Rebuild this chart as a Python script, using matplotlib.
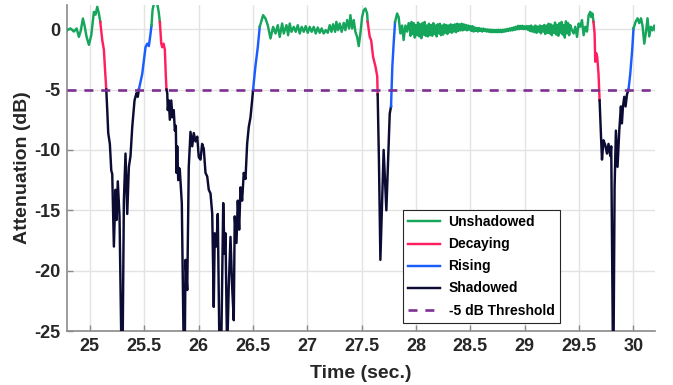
"""
Link attenuation trace with blockage states (unshadowed / decaying /
shadowed / rising) and the -5 dB shadowing threshold.
"""
import numpy as np
import matplotlib
matplotlib.use("Agg")
import matplotlib.pyplot as plt
from matplotlib.lines import Line2D

# (time [s], attenuation [dB]) keypoints
lead_in = [(24.792, -0.08), (24.822, 0.06), (24.853, -0.2), (24.878, 0.06),
           (24.899, -0.64), (24.917, -0.1), (24.936, 0.88), (24.951, 0.3),
           (24.970, -0.64), (24.991, -1.3), (25.013, -0.5), (25.037, 1.43),
           (25.052, 1.2), (25.068, 1.85), (25.083, 1.3)]

event_a = [(25.096, 0.6), (25.114, -0.9), (25.129, -1.7), (25.138, -3.1),
           (25.151, -5.0), (25.160, -6.7), (25.169, -8.6), (25.184, -9.5),
           (25.197, -11.7), (25.206, -12.0), (25.221, -18.0), (25.236, -13.3),
           (25.246, -15.8), (25.257, -12.6), (25.273, -15.5), (25.291, -27.0),
           (25.301, -27.0), (25.313, -14.2), (25.328, -10.3), (25.344, -15.3),
           (25.359, -11.4), (25.374, -10.5), (25.390, -8.1), (25.411, -5.9),
           (25.429, -5.3), (25.441, -5.6), (25.451, -5.0), (25.482, -3.7),
           (25.497, -2.6), (25.512, -1.5), (25.528, -1.2), (25.543, -1.4),
           (25.558, -0.4), (25.567, 0.3), (25.577, 1.6), (25.589, 2.1),
           (25.620, 2.1), (25.634, 1.4)]

event_b = [(25.644, 0.6), (25.657, -1.2), (25.666, -1.5), (25.678, -1.2),
           (25.690, -1.7), (25.699, -3.9), (25.705, -5.0), (25.712, -5.3),
           (25.717, -6.7), (25.726, -5.9), (25.736, -7.5), (25.749, -5.9),
           (25.760, -7.3), (25.772, -6.7), (25.782, -8.4), (25.791, -8.0),
           (25.797, -11.9), (25.804, -9.7), (25.813, -12.5), (25.822, -11.5),
           (25.828, -11.7), (25.846, -14.4), (25.864, -27.0), (25.873, -27.0),
           (25.880, -19.1), (25.896, -21.6), (25.910, -11.4), (25.926, -8.5),
           (25.942, -9.7), (25.956, -8.6), (25.972, -9.3), (25.988, -8.9),
           (26.002, -10.6), (26.018, -10.8), (26.033, -9.5), (26.048, -9.9),
           (26.064, -11.9), (26.080, -12.2), (26.094, -13.3), (26.110, -13.6),
           (26.126, -15.3), (26.140, -23.0), (26.149, -16.9), (26.165, -18.0),
           (26.177, -15.3), (26.193, -27.0), (26.208, -27.0), (26.227, -14.4),
           (26.239, -18.6), (26.248, -16.9), (26.263, -27.0), (26.278, -21.3),
           (26.294, -17.2), (26.309, -21.3), (26.324, -24.1), (26.333, -15.5),
           (26.349, -17.7), (26.361, -14.2), (26.374, -16.6), (26.386, -13.1),
           (26.401, -14.2), (26.416, -11.9), (26.432, -12.4), (26.447, -9.5),
           (26.462, -8.1), (26.478, -7.3), (26.493, -5.9), (26.502, -5.0),
           (26.523, -3.1), (26.545, -1.5)]

calm_a = [(26.563, 0.2), (26.594, 1.16), (26.616, 0.88), (26.637, 0.33),
          (26.662, -0.77), (26.686, 0.19), (26.708, -0.36), (26.729, 0.33),
          (26.747, -0.64), (26.769, 0.47), (26.784, -0.36), (26.809, 0.33),
          (26.824, -0.5), (26.839, 0.47), (26.855, -0.22), (26.876, 0.19),
          (26.894, -0.22), (26.913, 0.33), (26.931, -0.36), (26.949, 0.19),
          (26.968, -0.22), (26.986, 0.25), (27.005, -0.3), (27.023, 0.19),
          (27.041, -0.22), (27.060, 0.19), (27.078, -0.36), (27.097, 0.14),
          (27.115, -0.3), (27.133, 0.06), (27.152, -0.36), (27.170, -0.08),
          (27.189, -0.3), (27.207, 0.33), (27.223, -0.22), (27.238, 0.41),
          (27.257, -0.22), (27.268, 0.61), (27.284, -0.08), (27.299, 0.47),
          (27.317, -0.22), (27.336, 0.52), (27.351, -0.08), (27.367, 0.75),
          (27.385, 0.06), (27.397, 1.16), (27.413, 0.06), (27.428, 0.75),
          (27.443, -0.22), (27.459, -0.64), (27.474, -1.4), (27.489, -0.36),
          (27.505, 1.02), (27.520, 1.57), (27.535, 1.71), (27.551, 1.3)]

event_c = [(27.556, 0.61), (27.575, -0.64), (27.588, -0.9), (27.606, -2.3),
           (27.628, -3.1), (27.644, -3.9), (27.648, -5.4), (27.660, -11.0),
           (27.673, -19.1), (27.703, -10.0), (27.728, -15.0), (27.759, -7.0),
           (27.771, -6.4), (27.783, -3.1), (27.795, -1.2), (27.808, 0.6),
           (27.827, 1.3), (27.841, 1.0), (27.857, -0.36), (27.873, 0.3),
           (27.887, -0.9), (27.903, 0.3), (27.919, -0.2), (27.933, 0.5)]

# long unshadowed stretch, sampled every 10 ms from 27.94 s
quiet_t0 = 27.94
quiet_dt = 0.01
quiet_db = [0.45, -0.55, 0.6, -0.4, 0.5, -0.7, 0.35, -0.5, 0.55, -0.6,
            0.4, -0.75, 0.5, -0.45, 0.6, -0.55, 0.3, -0.6, 0.45, -0.5,
            0.35, -0.55, 0.5, -0.4, 0.3, -0.6, 0.4, -0.35, 0.45, -0.5,
            0.3, -0.45, 0.4, -0.3, 0.35, -0.4, 0.3, -0.25, 0.4, -0.3,
            0.35, -0.2, 0.4, -0.25, 0.45, -0.15, 0.4, -0.1, 0.45, -0.1,
            0.4, -0.05, 0.35, -0.1, 0.3, -0.05, 0.25, -0.15, 0.25, -0.2,
            0.15, -0.15, 0.1, -0.2, 0.1, -0.15, 0.05, -0.2, 0.05, -0.15,
            0.0, -0.2, -0.02, -0.22, -0.03, -0.25, -0.05, -0.25, -0.06, -0.24,
            -0.06, -0.26, -0.05, -0.24, -0.06, -0.25, -0.04, -0.22, -0.02, -0.18,
            0.02, -0.15, 0.06, -0.12, 0.1, -0.1, 0.15, -0.06, 0.2, -0.02,
            0.28, 0.0, 0.27, 0.02, 0.28, 0.0, 0.24, 0.0, 0.26, -0.05,
            0.25, -0.15, 0.3, -0.2, 0.2, -0.25, 0.3, -0.3, 0.2, -0.2,
            0.3, -0.35, 0.25, -0.2, 0.35, -0.4, 0.3, -0.3, 0.45, -0.35,
            0.4, -0.5, 0.3, -0.3, 0.55, -0.45, 0.35, -0.55, 0.5, -0.3,
            0.6, -0.45, 0.35, -0.7, 0.65, -0.35, 0.5, -0.5]

event_d = [(29.420, 0.33), (29.436, -0.1), (29.451, -0.36), (29.466, 0.2),
           (29.482, -0.64), (29.497, 0.47), (29.512, 0.2), (29.528, 0.75),
           (29.543, -0.5), (29.558, 0.2), (29.574, -0.2), (29.589, 1.16),
           (29.604, 1.43), (29.613, 1.0), (29.624, 1.3), (29.634, 0.6),
           (29.644, -0.36), (29.650, -2.7), (29.659, -2.0), (29.668, -2.3),
           (29.680, -3.7), (29.690, -5.9), (29.703, -8.9), (29.712, -10.8),
           (29.726, -9.2), (29.742, -9.6), (29.758, -10.3), (29.772, -9.5),
           (29.788, -10.5), (29.797, -9.7), (29.813, -27.0), (29.818, -27.0),
           (29.828, -13.1), (29.840, -8.4), (29.855, -11.4), (29.871, -8.4),
           (29.886, -6.4), (29.895, -7.8), (29.905, -6.4), (29.917, -5.6),
           (29.929, -6.4), (29.942, -5.4), (29.956, -5.0), (29.972, -3.7),
           (29.990, -1.7), (30.002, 0.06), (30.021, 0.6), (30.039, 0.9),
           (30.055, 0.5), (30.071, 0.9), (30.085, 0.3), (30.101, -1.2),
           (30.117, -0.2), (30.131, 0.9), (30.147, -0.6), (30.162, 0.2),
           (30.177, -0.1), (30.193, 0.3), (30.208, -0.2)]

# link state from each change time onwards
state_changes = [(24.792, "Unshadowed"), (25.096, "Decaying"), (25.151, "Shadowed"),
                 (25.451, "Rising"), (25.567, "Unshadowed"), (25.644, "Decaying"),
                 (25.705, "Shadowed"), (26.502, "Rising"), (26.563, "Unshadowed"),
                 (27.556, "Decaying"), (27.648, "Shadowed"), (27.771, "Rising"),
                 (27.808, "Unshadowed"), (29.634, "Decaying"), (29.690, "Shadowed"),
                 (29.956, "Rising"), (30.002, "Unshadowed")]

THRESHOLD_DB = -5
STATE_COLORS = {"Unshadowed": "#15a65c", "Decaying": "#ff1f60",
                "Rising": "#1a5dff", "Shadowed": "#0b0b33"}
THRESH_COLOR = "#7d2f93"
FONT = "Liberation Sans"
LW = 1.75

quiet = [(quiet_t0 + i * quiet_dt, v) for i, v in enumerate(quiet_db)]
pts = np.array(lead_in + event_a + event_b + calm_a + event_c + quiet + event_d)
t, db = pts[:, 0], pts[:, 1]

plt.rcParams["font.family"] = FONT
plt.rcParams["font.weight"] = "bold"
plt.rcParams["axes.unicode_minus"] = False

fig = plt.figure(figsize=(6.73, 3.85), dpi=100)
ax = fig.add_axes([0.0996, 0.140, 0.8737, 0.847])

for i, (t0, state) in enumerate(state_changes):
    t1 = state_changes[i + 1][0] if i + 1 < len(state_changes) else np.inf
    m = (t >= t0 - 1e-9) & (t <= t1 + 1e-9)
    ax.plot(t[m], db[m], color=STATE_COLORS[state], lw=LW, zorder=3,
            solid_joinstyle="round")

ax.plot([24.79, 30.2], [THRESHOLD_DB, THRESHOLD_DB], color=THRESH_COLOR,
        lw=1.9, dashes=(3.4, 3.0), zorder=4)

ax.set_xlim(24.79, 30.2)
ax.set_ylim(-25, 2)
ax.set_xticks(np.arange(25, 30.01, 0.5))
ax.set_xticklabels(["25", "25.5", "26", "26.5", "27", "27.5",
                    "28", "28.5", "29", "29.5", "30"])
ax.set_yticks([-25, -20, -15, -10, -5, 0])
ax.set_yticklabels(["-25", "-20", "-15", "-10", "-5", "0"])
ax.grid(True, color="#e3e3e3", lw=1.0, zorder=0)
ax.set_axisbelow(True)
for side in ("top", "right"):
    ax.spines[side].set_visible(False)
for side in ("left", "bottom"):
    ax.spines[side].set_color("#8a8a8a")
    ax.spines[side].set_linewidth(1.2)
ax.tick_params(direction="in", length=4, width=1.0, color="#8a8a8a",
               labelsize=13, labelcolor="#262626", pad=5)
for lbl in ax.get_xticklabels() + ax.get_yticklabels():
    lbl.set_fontweight("bold")
ax.set_xlabel("Time (sec.)", fontsize=14, fontweight="bold", color="#262626",
              labelpad=7)
ax.set_ylabel("Attenuation (dB)", fontsize=14, fontweight="bold", color="#262626",
              labelpad=2)

handles = [Line2D([], [], color=STATE_COLORS[s], lw=LW)
           for s in ("Unshadowed", "Decaying", "Rising", "Shadowed")]
handles.append(Line2D([], [], color=THRESH_COLOR, lw=1.9, dashes=(3.4, 3.0)))
labels = ["Unshadowed", "Decaying", "Rising", "Shadowed", "-5 dB Threshold"]
leg = ax.legend(handles, labels, loc="lower left", bbox_to_anchor=(0.571, 0.0245),
                fancybox=False, framealpha=1, edgecolor="#262626",
                prop={"family": FONT, "weight": "bold", "size": 10},
                handlelength=2.3, labelspacing=0.58, borderpad=0.4,
                handletextpad=0.6, borderaxespad=0)
leg.get_frame().set_linewidth(0.8)

fig.savefig("out.png", dpi=100)
